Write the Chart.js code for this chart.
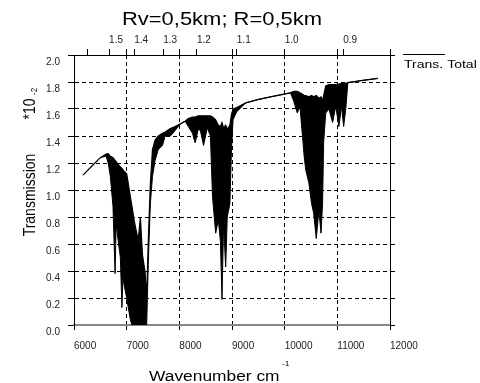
<!DOCTYPE html>
<html lang="en">

<head>
    <meta charset="UTF-8">
    <title>Rv=0,5km; R=0,5km</title>
    <script src="https://cdn.jsdelivr.net/npm/chart.js@4.4.1/dist/chart.umd.min.js"></script>
    <style>
        html, body { margin: 0; padding: 0; background: #fff; }
    </style>
</head>

<body>
    <canvas id="grafico" width="480" height="383"></canvas>

    <script>
        // envelope of the spectrum (wavenumber in cm-1, transmission *10^-2)
        var waveNumbers = [6170, 6360, 6500, 6610, 6650, 6690, 6740, 6780, 6800, 6840, 6880, 6910, 6930, 6950, 7000,
            7030, 7070, 7100, 7140, 7180, 7220, 7260, 7300, 7350, 7380, 7410, 7450, 7490, 7540, 7600, 7680, 7730, 7830,
            7920, 8020, 8110, 8170, 8250, 8300, 8360, 8400, 8460, 8530, 8590, 8630, 8690, 8740, 8780, 8810, 8840, 8880,
            8910, 8960, 8990, 9020, 9090, 9260, 9490, 9730, 9920, 10110, 10170, 10240, 10290, 10340, 10370, 10400,
            10460, 10510, 10550, 10600, 10650, 10690, 10720, 10740, 10780, 10840, 10910, 10970, 11030, 11080, 11120,
            11160, 11200, 11450, 11770];
        var transUpper = [1.11, 1.185, 1.24, 1.267, 1.27, 1.25, 1.24, 1.22, 1.21, 1.19, 1.17, 1.16, 1.15, 1.14, 1.12,
            1.05, 0.95, 0.88, 0.78, 0.70, 0.63, 0.80, 0.52, 0.39, 0.20, 0.62, 1.05, 1.30, 1.37, 1.40, 1.42, 1.43, 1.455,
            1.47, 1.49, 1.51, 1.53, 1.54, 1.54, 1.55, 1.55, 1.55, 1.55, 1.55, 1.54, 1.52, 1.48, 1.47, 1.50, 1.46, 1.48,
            1.45, 1.48, 1.56, 1.60, 1.61, 1.645, 1.67, 1.69, 1.705, 1.72, 1.73, 1.73, 1.72, 1.71, 1.70, 1.70,
            1.69, 1.70, 1.69, 1.70, 1.68, 1.69, 1.66, 1.70, 1.77, 1.78, 1.78, 1.78, 1.785, 1.79, 1.79,
            1.79, 1.795, 1.81, 1.827];
        var transLower = [1.11, 1.185, 1.24, 1.25, 1.20, 1.10, 0.88, 0.38, 0.75, 0.62, 0.50, 0.13, 0.36, 0.30, 0.20,
            0.13, 0.04, 0, 0, 0, 0, 0, 0, 0, 0, 0.45, 0.90, 1.10, 1.22, 1.30, 1.33, 1.40, 1.40,
            1.44, 1.49, 1.51, 1.47, 1.42, 1.35, 1.45, 1.44, 1.33, 1.46, 1.40, 0.95, 0.68, 0.78, 0.62, 0.19, 0.75, 0.43,
            0.80, 0.90, 1.30, 1.52, 1.58, 1.645, 1.67, 1.69, 1.705, 1.72, 1.66, 1.57, 1.62, 1.39, 1.25, 1.15,
            1.05, 0.90, 0.83, 0.64, 0.85, 0.68, 0.90, 1.35, 1.57, 1.60, 1.50, 1.62, 1.47, 1.62, 1.47,
            1.60, 1.795, 1.81, 1.827];

        // top axis: wavelength in microns
        var micronTicks = [1.6, 1.5, 1.4, 1.3, 1.2, 1.1, 1.0, 0.9];
        var micronLabels = ['', '1.5', '1.4', '1.3', '1.2', '1.1', '1.0', '0.9'];
        var wavenumberTicks = [7000, 8000, 9000, 10000, 11000, 12000];

        var chartTitle = 'Rv=0,5km; R=0,5km';
        var xTitle = 'Wavenumber cm';
        var yTitle = 'Transmission';
        var seriesName = 'Trans. Total';

        var fonte = '"Liberation Sans", Arial, sans-serif';
        Chart.defaults.font.family = fonte;

        function pontos(valores) {
            return waveNumbers.map(function (x, i) { return { x: x, y: valores[i] }; });
        }

        // text a bit wider than the font, as in the picture
        function escrever(ctx, texto, x, y, tamanho, esticar, alinhamento, vertical) {
            ctx.save();
            ctx.translate(x, y);
            if (vertical) {
                ctx.rotate(-Math.PI / 2);
                ctx.scale(1, esticar);
            } else {
                ctx.scale(esticar, 1);
            }
            ctx.font = tamanho + 'px ' + fonte;
            ctx.fillStyle = '#000';
            ctx.textAlign = alinhamento;
            ctx.textBaseline = 'alphabetic';
            ctx.fillText(texto, 0, 0);
            ctx.restore();
        }

        var textos = {
            id: 'textos',
            afterDraw: function (chart) {
                var ctx = chart.ctx;
                escrever(ctx, chartTitle, 222, 25, 18, 1.22, 'center', false);
                escrever(ctx, xTitle, 149, 381, 14, 1.24, 'left', false);
                escrever(ctx, '-1', 282, 366, 7, 1.2, 'left', false);
                escrever(ctx, yTitle, 35, 195, 14, 1.22, 'center', true);
                escrever(ctx, '*10', 35, 109, 14, 1.22, 'center', true);
                escrever(ctx, '-2', 37, 95, 8, 1.2, 'left', true);

                // legend: line above the name
                ctx.save();
                ctx.strokeStyle = '#000';
                ctx.lineWidth = 1;
                ctx.beginPath();
                ctx.moveTo(403, 54.5);
                ctx.lineTo(445, 54.5);
                ctx.stroke();
                ctx.restore();
                escrever(ctx, seriesName, 404, 67.5, 11.5, 1.22, 'left', false);
            }
        };

        function gradeX(c) {
            return (c.tick && c.tick.value > 6000 && c.tick.value < 12000) ? '#000' : 'rgba(0,0,0,0)';
        }
        function gradeY(c) {
            return (c.tick && c.tick.value > 0.01 && c.tick.value < 1.99) ? '#000' : 'rgba(0,0,0,0)';
        }

        var topValues = micronTicks.map(function (m) { return 10000 / m; }).concat(wavenumberTicks);

        var config = {
            type: 'line',
            data: {
                datasets: [{
                    label: seriesName,
                    data: pontos(transUpper),
                    borderColor: '#000',
                    borderWidth: 1.2,
                    pointRadius: 0,
                    fill: false,
                    tension: 0
                }, {
                    label: 'lower',
                    data: pontos(transLower),
                    borderColor: '#000',
                    borderWidth: 1,
                    pointRadius: 0,
                    backgroundColor: '#000',
                    fill: '-1',
                    tension: 0
                }]
            },
            options: {
                responsive: false,
                animation: false,
                events: [],
                layout: { padding: 0 },
                plugins: {
                    legend: { display: false },
                    title: { display: false },
                    tooltip: { enabled: false }
                },
                scales: {
                    x: {
                        type: 'linear',
                        position: 'bottom',
                        min: 6000,
                        max: 12000,
                        afterFit: function (s) { s.height = 58; },
                        ticks: {
                            stepSize: 1000,
                            align: 'start',
                            padding: 10,
                            maxRotation: 0,
                            autoSkip: false,
                            color: '#222',
                            font: { size: 10 },
                            callback: function (v) { return String(v); }
                        },
                        grid: {
                            color: gradeX,
                            lineWidth: 1,
                            tickLength: 5,
                            tickColor: '#000',
                            tickBorderDash: []
                        },
                        border: { color: '#888', width: 2, dash: [4, 3] }
                    },
                    x2: {
                        type: 'linear',
                        position: 'top',
                        min: 6000,
                        max: 12000,
                        afterFit: function (s) { s.height = 55; },
                        afterBuildTicks: function (s) {
                            s.ticks = topValues.map(function (v) { return { value: v }; });
                        },
                        ticks: {
                            align: 'start',
                            padding: 3,
                            maxRotation: 0,
                            autoSkip: false,
                            color: '#222',
                            font: { size: 10 },
                            callback: function (v, i) {
                                return i < micronLabels.length ? micronLabels[i] : '';
                            }
                        },
                        grid: {
                            drawOnChartArea: false,
                            tickLength: 6,
                            tickColor: '#000'
                        },
                        border: { color: '#000', width: 1 }
                    },
                    y: {
                        type: 'linear',
                        position: 'left',
                        min: 0,
                        max: 2,
                        afterFit: function (s) { s.width = 74; },
                        ticks: {
                            stepSize: 0.2,
                            padding: 8,
                            labelOffset: 7,
                            color: '#222',
                            font: { size: 10 },
                            callback: function (v) { return v.toFixed(1); }
                        },
                        grid: {
                            color: gradeY,
                            lineWidth: 1,
                            tickLength: 6,
                            tickColor: '#000',
                            tickBorderDash: []
                        },
                        border: { color: '#000', width: 1, dash: [4, 3] }
                    },
                    y2: {
                        type: 'linear',
                        position: 'right',
                        min: 0,
                        max: 2,
                        afterFit: function (s) { s.width = 90; },
                        ticks: {
                            stepSize: 0.2,
                            callback: function () { return ''; }
                        },
                        grid: {
                            drawOnChartArea: false,
                            tickLength: 5,
                            tickColor: '#000'
                        },
                        border: { color: '#000', width: 1 }
                    }
                }
            },
            plugins: [textos]
        };

        new Chart(document.getElementById('grafico').getContext('2d'), config);
    </script>
</body>

</html>
